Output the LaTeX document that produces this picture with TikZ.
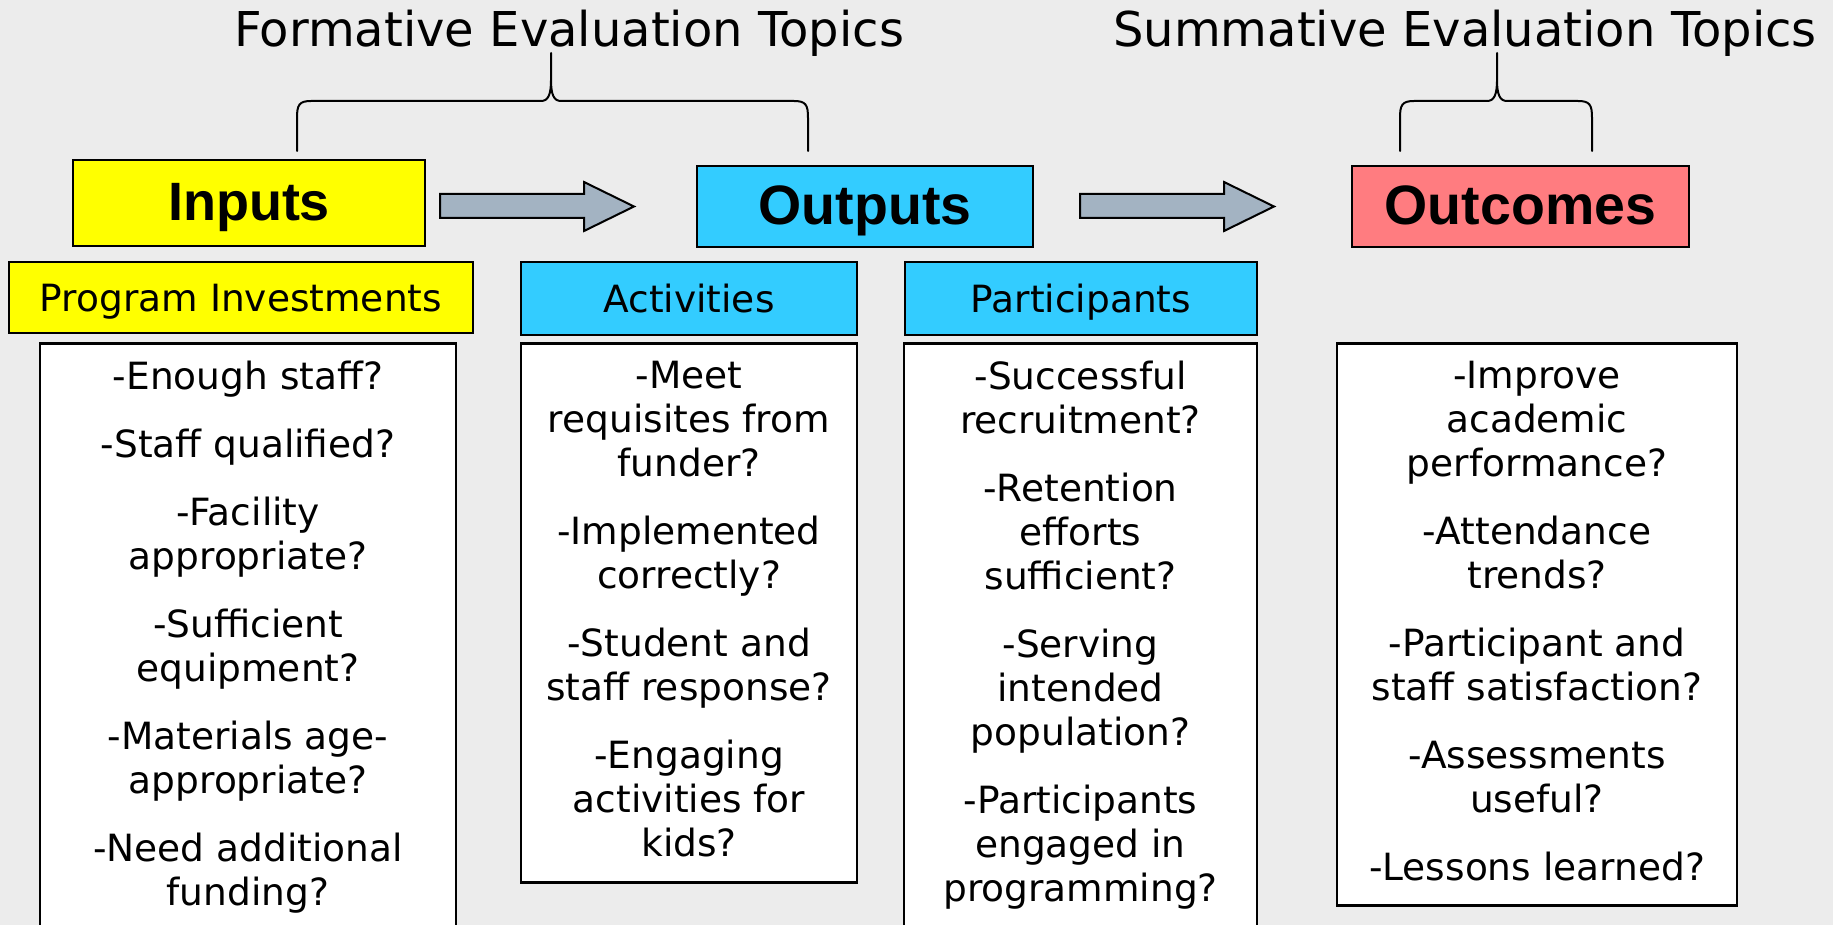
\documentclass[tikz,border=0pt]{standalone}
\usepackage{fontspec}
\setmainfont{DejaVu Sans}
\newfontfamily\headfont{Liberation Sans}
\usetikzlibrary{positioning}

\definecolor{bggray}{HTML}{ECECEC}
\definecolor{inyellow}{HTML}{FFFF00}
\definecolor{outblue}{HTML}{33CCFF}
\definecolor{outcred}{HTML}{FF7C80}
\definecolor{arrowgray}{HTML}{A3B3C2}

\begin{document}
\begin{tikzpicture}[
    x=1pt, y=-1pt,
    every node/.style={inner sep=0pt},
    title/.style={font=\fontsize{48}{56}\selectfont, anchor=base},
    headbox/.style={draw, line width=2.5pt, text height=38pt, text depth=2pt,
        font=\headfont\bfseries\fontsize{55.5}{60}\selectfont},
    subbox/.style={draw, line width=2.5pt, text height=30pt, text depth=2pt,
        font=\fontsize{37.5}{44}\selectfont},
    qbox/.style={draw, line width=2.5pt, fill=white, anchor=north},
    qtext/.style={align=center, font=\fontsize{37.5}{44}\selectfont},
    brace/.style={line width=2pt, line cap=round}
]

% Page
\fill[bggray] (0,0) rectangle (1833,925);
\useasboundingbox (0,0) rectangle (1833,925);
\clip (0,0) rectangle (1833,925);

% === Group titles ===
\node[title] (formative) at (569,47) {Formative Evaluation Topics};
\node[title] (summative) at (1465,47) {Summative Evaluation Topics};

% Curly braces: left leg / tip / right leg
\foreach \l/\t/\r in {297/551/808, 1400/1497/1592} {
    \draw[brace] (\l,151) -- (\l,118) .. controls (\l,105) and (\l+2,101) .. (\l+14,101)
        -- (\t-10,101) .. controls (\t-3,101) and (\t,95) .. (\t,80) -- (\t,53)
        (\t,80) .. controls (\t,95) and (\t+3,101) .. (\t+10,101)
        -- (\r-14,101) .. controls (\r-2,101) and (\r,105) .. (\r,118) -- (\r,151);
}

% === Main row ===
\node[headbox, fill=inyellow, minimum width=352pt, minimum height=86pt,
    font=\headfont\bfseries\fontsize{54}{60}\selectfont] (inputs) at (249,203) {Inputs};
\node[headbox, fill=outblue, minimum width=336pt, minimum height=81pt] (outputs) at (865,206.5) {Outputs};
\node[headbox, fill=outcred, minimum width=337pt, minimum height=81pt] (outcomes) at (1520.5,206.5) {Outcomes};

% Block arrows between the main boxes
\foreach \x in {440,1080} {
    \draw[line width=2pt, fill=arrowgray] (\x,194) -- (\x+144,194) -- (\x+144,182)
        -- (\x+194,206.5) -- (\x+144,231) -- (\x+144,218) -- (\x,218) -- cycle;
}

% === Sub headings ===
\node[subbox, fill=inyellow, minimum width=464pt, minimum height=71pt] (invest) at (241,297.5) {Program Investments};
\node[subbox, fill=outblue, minimum width=336pt, minimum height=73pt] (activ) at (689,298.5) {Activities};
\node[subbox, fill=outblue, minimum width=352pt, minimum height=73pt] (partic) at (1081,298.5) {Participants};

% === Question boxes ===
\node[qbox, minimum width=416pt, minimum height=620pt] (investq) at (248,342) {};
\node[qbox, minimum width=336pt, minimum height=539pt] (activq) at (689,342) {};
\node[qbox, minimum width=353pt, minimum height=620pt] (particq) at (1080.5,342) {};
\node[qbox, minimum width=400pt, minimum height=562pt] (outcq) at (1537,342) {};

\node[qtext, below=18.5pt of investq.north] (investt) {%
    -Enough staff?\\[24pt]-Staff qualified?\\[24pt]-Facility\\appropriate?\\[24pt]%
    -Sufficient\\equipment?\\[24pt]-Materials age-\\appropriate?\\[24pt]%
    -Need additional\\funding?};
\node[qtext, below=18.5pt of activq.north] (activt) {%
    -Meet\\requisites from\\funder?\\[24pt]-Implemented\\correctly?\\[24pt]%
    -Student and\\staff response?\\[24pt]-Engaging\\activities for\\kids?};
\node[qtext, below=18.5pt of particq.north] (partict) {%
    -Successful\\recruitment?\\[24pt]-Retention\\efforts\\sufficient?\\[24pt]%
    -Serving\\intended\\population?\\[24pt]-Participants\\engaged in\\programming?};
\node[qtext, below=18.5pt of outcq.north] (outct) {%
    -Improve\\academic\\performance?\\[24pt]-Attendance\\trends?\\[24pt]%
    -Participant and\\staff satisfaction?\\[24pt]-Assessments\\useful?\\[24pt]%
    -Lessons learned?};

\end{tikzpicture}
\end{document}
